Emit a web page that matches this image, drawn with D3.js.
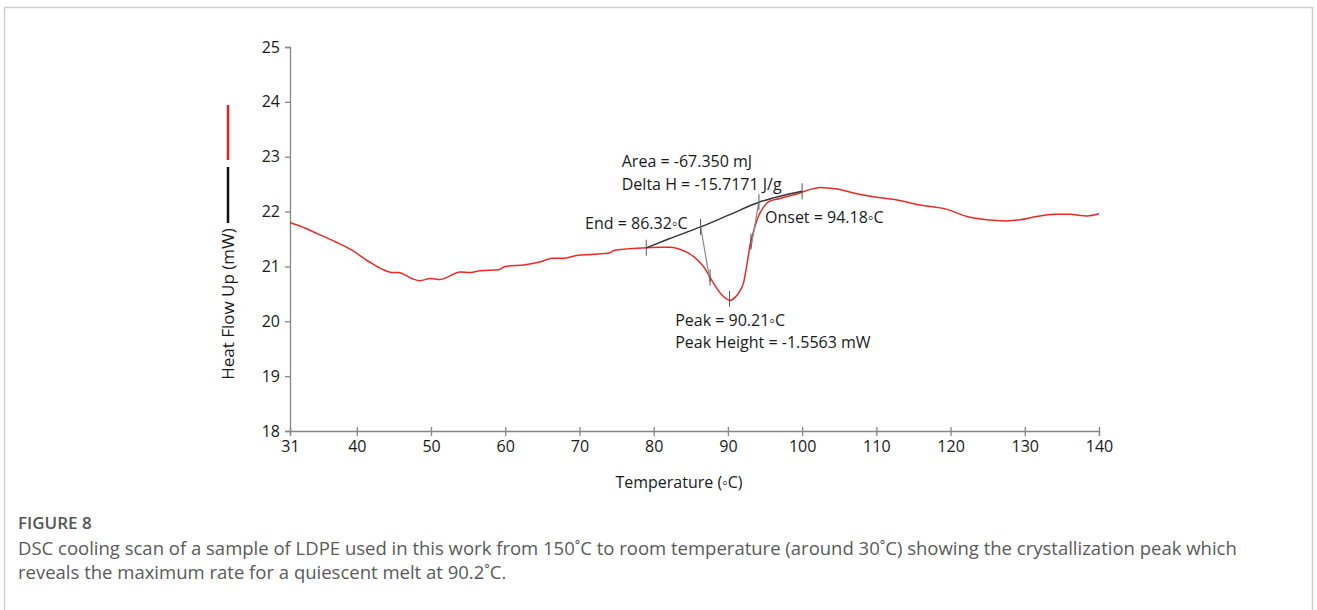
<!DOCTYPE html>
<html>
<head>
<meta charset="utf-8">
<script src="https://cdn.jsdelivr.net/npm/d3@7"></script>
<style>
  html, body { margin: 0; padding: 0; background: #fff; }
  svg { display: block; }
</style>
</head>
<body>
<svg id="chart" width="1317" height="610"></svg>
<script>
// DSC cooling scan, heat flow (mW) against temperature (°C)
const temperature = [31.0, 33.0, 34.8, 37.1, 39.3, 41.6, 43.4, 44.7, 45.6, 47.4, 48.5, 49.9, 51.2, 52.3, 53.9, 55.3, 56.6, 59.1, 60.0, 62.7, 64.9, 66.3, 68.0, 69.6, 71.9, 74.1, 74.6, 76.4, 79.1, 80.9, 82.2, 83.6, 85.4, 86.7, 87.6, 88.5, 89.2, 89.9, 90.3, 91.0, 91.6, 92.1, 92.5, 93.0, 93.5, 94.1, 94.8, 95.5, 97.0, 99.7, 101.0, 102.4, 103.5, 104.7, 106.9, 109.6, 112.8, 115.9, 119.5, 122.2, 124.9, 127.6, 129.4, 131.6, 133.9, 136.1, 138.4, 140.0];
const heatFlow = [21.80, 21.70, 21.59, 21.45, 21.30, 21.09, 20.95, 20.89, 20.89, 20.78, 20.74, 20.78, 20.76, 20.81, 20.90, 20.89, 20.92, 20.94, 21.00, 21.03, 21.09, 21.15, 21.15, 21.20, 21.22, 21.25, 21.29, 21.32, 21.34, 21.35, 21.35, 21.31, 21.18, 21.00, 20.80, 20.60, 20.48, 20.40, 20.38, 20.44, 20.55, 20.70, 20.98, 21.40, 21.66, 21.91, 22.08, 22.18, 22.24, 22.34, 22.40, 22.44, 22.43, 22.41, 22.34, 22.27, 22.21, 22.12, 22.04, 21.91, 21.85, 21.83, 21.85, 21.91, 21.95, 21.95, 21.92, 21.96];

// integration baseline under the crystallization peak
const baselineT = [79.0, 82.0, 86.32, 90.0, 94.18, 97.0, 100.0];
const baselineHF = [21.34, 21.50, 21.72, 21.93, 22.17, 22.28, 22.37];

// tangent construction lines for End and Onset
const endTangent = [[86.32, 21.73], [87.6, 20.72]];
const onsetTangent = [[94.18, 22.19], [93.1, 21.33]];

// small tick marks on baseline and curve
const markT = [79.0, 86.32, 94.18, 100.0, 87.6, 93.1, 90.21];
const markHF = [21.34, 21.72, 22.17, 22.37, 20.80, 21.45, 20.41];

const xTicks = [31, 40, 50, 60, 70, 80, 90, 100, 110, 120, 130, 140];
const yTicks = [18, 19, 20, 21, 22, 23, 24, 25];

const annotations = [
  { t: "Area = -67.350 mJ", x: 75.7, y: 22.81 },
  { t: "Delta H = -15.7171 J/g", x: 75.7, y: 22.39 },
  { t: "End = 86.32\u25E6C", x: 70.76, y: 21.68 },
  { t: "Onset = 94.18\u25E6C", x: 95.0, y: 21.79 },
  { t: "Peak = 90.21\u25E6C", x: 82.9, y: 19.91 },
  { t: "Peak Height = -1.5563 mW", x: 82.9, y: 19.51 }
];

const captionTitle = "FIGURE 8";
const captionLines = [
  "DSC cooling scan of a sample of LDPE used in this work from 150\u02DAC to room temperature (around 30\u02DAC) showing the crystallization peak which",
  "reveals the maximum rate for a quiescent melt at 90.2\u02DAC."
];

const svg = d3.select("#chart");
const font = "'Open Sans', 'Noto Sans', sans-serif";

// outer frame
svg.append("path")
  .attr("d", "M4.5,610 L4.5,7.5 L1312.5,7.5 L1312.5,610")
  .attr("fill", "none").attr("stroke", "#cfcfcf").attr("stroke-width", 1.5);

const x = d3.scaleLinear().domain([31, 140]).range([290, 1099]);
const y = d3.scaleLinear().domain([18, 25]).range([431, 47]);
const axisColor = "#868686";

// y axis
const yAxis = svg.append("g").attr("transform", `translate(${x(31)},0)`)
  .call(d3.axisLeft(y).tickValues(yTicks).tickSize(5).tickPadding(5).tickFormat(d3.format("d")));
yAxis.select(".domain").attr("stroke", axisColor).attr("stroke-width", 1.3);
yAxis.selectAll(".tick line").attr("stroke", axisColor).attr("stroke-width", 1.3);
yAxis.selectAll(".tick text").attr("font-family", font).attr("font-size", 16).attr("fill", "#1a1a1a");

// x axis
const xAxis = svg.append("g").attr("transform", `translate(0,${y(18)})`)
  .call(d3.axisBottom(x).tickValues(xTicks).tickSize(5).tickPadding(5).tickFormat(d3.format("d")));
xAxis.select(".domain").attr("stroke", axisColor).attr("stroke-width", 1.3);
xAxis.selectAll(".tick line").attr("y1", -4).attr("stroke", axisColor).attr("stroke-width", 1.3);
xAxis.selectAll(".tick text").attr("font-family", font).attr("font-size", 16).attr("fill", "#1a1a1a");

// axis titles
svg.append("text").attr("x", 679).attr("y", 488).attr("text-anchor", "middle")
  .attr("font-family", font).attr("font-size", 16).attr("fill", "#1a1a1a")
  .text("Temperature (\u25E6C)");
svg.append("text").attr("transform", "translate(234,304) rotate(-90)").attr("text-anchor", "middle")
  .attr("font-family", font).attr("font-size", 17).attr("fill", "#1a1a1a")
  .text("Heat Flow Up (mW)");

// vertical legend swatches beside the y title
svg.append("line").attr("x1", 228).attr("x2", 228).attr("y1", 105).attr("y2", 160)
  .attr("stroke", "#e8202a").attr("stroke-width", 2.5);
svg.append("line").attr("x1", 228).attr("x2", 228).attr("y1", 167).attr("y2", 223)
  .attr("stroke", "#111").attr("stroke-width", 2.5);

// heat-flow curve
const pts = temperature.map((t, i) => [t, heatFlow[i]]);
const line = d3.line().x(d => x(d[0])).y(d => y(d[1])).curve(d3.curveMonotoneX);
svg.append("path").datum(pts).attr("d", line)
  .attr("fill", "none").attr("stroke", "#ea2a2a").attr("stroke-width", 1.5);

// baseline
const base = baselineT.map((t, i) => [t, baselineHF[i]]);
svg.append("path").datum(base).attr("d", line)
  .attr("fill", "none").attr("stroke", "#333").attr("stroke-width", 1.4);

// tangents
const straight = d3.line().x(d => x(d[0])).y(d => y(d[1]));
[endTangent, onsetTangent].forEach(seg => {
  svg.append("path").datum(seg).attr("d", straight)
    .attr("fill", "none").attr("stroke", "#8a8a8a").attr("stroke-width", 1.2);
});

// tick marks
svg.append("g").selectAll("line").data(markT).join("line")
  .attr("x1", d => x(d)).attr("x2", d => x(d))
  .attr("y1", (d, i) => y(markHF[i]) - 8).attr("y2", (d, i) => y(markHF[i]) + 8)
  .attr("stroke", "#555").attr("stroke-width", 1);

// annotation labels
svg.append("g").selectAll("text").data(annotations).join("text")
  .attr("x", d => x(d.x)).attr("y", d => y(d.y))
  .attr("font-family", font).attr("font-size", 16).attr("fill", "#1a1a1a")
  .text(d => d.t);

// caption
svg.append("text").attr("x", 18).attr("y", 529)
  .attr("font-family", font).attr("font-size", 17).attr("font-weight", 600).attr("fill", "#555")
  .text(captionTitle);
svg.append("g").selectAll("text").data(captionLines).join("text")
  .attr("x", 18).attr("y", (d, i) => 555 + i * 24)
  .attr("font-family", font).attr("font-size", 18.5).attr("fill", "#5a5a5a")
  .text(d => d);
</script>
</body>
</html>
